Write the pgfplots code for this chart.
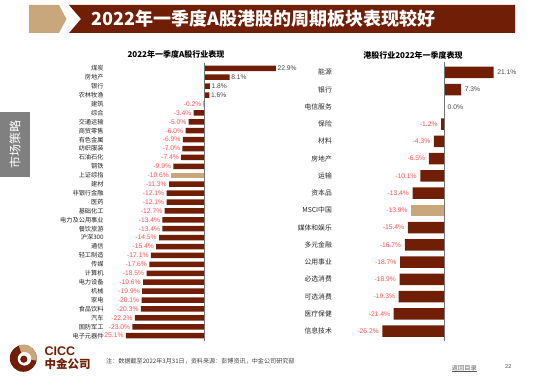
\documentclass[border=0pt]{standalone}
\usepackage{pgfplots}
\pgfplotsset{compat=1.18}
\usepackage{fontspec}
\setmainfont{Liberation Sans}
\newfontfamily\cjk{Noto Sans CJK SC}
\definecolor{barred}{RGB}{112,30,5}
\definecolor{tanc}{RGB}{201,167,124}
\definecolor{labred}{RGB}{255,80,80}
\definecolor{labgray}{RGB}{70,70,70}
\definecolor{tabgray}{RGB}{128,128,128}
\pgfplotsset{
  base/.style={scale only axis, anchor=south west, y dir=reverse, clip=false,
    xbar, bar shift=0pt, axis line style={draw=none}, major tick length=0pt,
    xtick=\empty, nodes near coords align={horizontal},
    /pgf/number format/assume math mode=true},
  lab/.style={point meta=x, nodes near coords={\pgfmathprintnumber[fixed,fixed zerofill,precision=1]{\pgfplotspointmeta}\%},
    every node near coord/.append style={font=\fontsize{6.7}{7}\selectfont, text=#1}},
}
\begin{document}
\begin{tikzpicture}
\useasboundingbox (0pt,0pt) rectangle (550pt,384pt);
\begin{scope}[x=1pt,y=1pt]
% banner
\fill[tanc] (29,379) -- (59,379) -- (66.5,365) -- (59,351) -- (29,351) -- cycle;
\fill[barred] (69,379) -- (515,379) -- (515,351) -- (69,351) -- (81,365) -- cycle;
\node[text=white, font=\cjk\bfseries\fontsize{18}{18}\selectfont, anchor=west] at (88,365) {2022年一季度A股港股的周期板块表现较好};
% side tab
\fill[tabgray] (0,207) rectangle (30,272);
\node[text=white, rotate=90, font=\cjk\fontsize{12}{12}\selectfont] at (15,239.5) {市场策略};
% chart titles
\node[font=\cjk\bfseries\fontsize{8}{8}\selectfont] at (176,329.7) {2022年一季度A股行业表现};
\node[font=\cjk\bfseries\fontsize{8}{8}\selectfont] at (413,329) {港股行业2022年一季度表现};
% footer
\fill[barred] (23.3,25.7) circle (13.5);
\fill[tanc] (23.3,25.7) -- ++(-10:13.5) arc (-10:110:13.5) -- cycle;
\fill[white] (24.5,25.2) circle (6.8);
\fill[barred] (23.8,24.8) circle (3.6);
\node[anchor=west, text=barred, font=\bfseries\fontsize{12.5}{12.5}\selectfont, inner sep=0] at (44.5,32.5) {CICC};
\node[anchor=west, text=barred, font=\cjk\bfseries\fontsize{11.5}{11.5}\selectfont, inner sep=0] at (44.5,19.5) {中金公司};
\node[anchor=west, text=black!75, font=\cjk\fontsize{6.1}{6.1}\selectfont, inner sep=0] at (106,23) {注：数据截至2022年3月31日，资料来源：彭博资讯，中金公司研究部};
\node[anchor=west, text=black!65, font=\cjk\fontsize{6.2}{6.2}\selectfont, inner sep=0] (ret) at (451.7,16.3) {返回目录};
\draw[black!65, line width=0.3pt] (ret.south west) -- (ret.south east);
\node[anchor=west, text=black!70, font=\fontsize{5.5}{5.5}\selectfont, inner sep=0] at (505,17) {22};
\end{scope}

% left chart
\begin{axis}[base, at={(106pt,41.2pt)}, width=184pt, height=281.6pt,
  xmin=-31.46, xmax=27.42, ymin=-0.8, ymax=30.8, bar width=5.5pt,
  ytick={0,...,30},
  yticklabels={煤炭,房地产,银行,农林牧渔,建筑,综合,交通运输,商贸零售,有色金属,纺织服装,石油石化,钢铁,上证综指,建材,非银行金融,医药,基础化工,电力及公用事业,餐饮旅游,沪深300,通信,轻工制造,传媒,计算机,电力设备,机械,家电,食品饮料,汽车,国防军工,电子元器件},
  yticklabel style={font=\cjk\fontsize{6.2}{6.2}\selectfont, text=black!85, inner sep=2.2pt}]
\addplot[fill=barred, draw=none, lab=labgray, every node near coord/.append style={inner sep=1.5pt}] coordinates {(22.9,0) (8.1,1) (1.8,2) (1.6,3)};
\addplot[fill=barred, draw=none, lab=labred, every node near coord/.append style={inner sep=2.2pt}] coordinates {(-0.2,4) (-3.4,5) (-5.0,6) (-6.0,7) (-6.9,8) (-7.0,9) (-7.4,10) (-9.9,11) (-11.3,13) (-12.1,14) (-12.1,15) (-12.7,16) (-13.4,17) (-13.4,18) (-14.5,19) (-15.4,20) (-17.1,21) (-17.6,22) (-18.5,23) (-19.6,24) (-19.9,25) (-20.1,26) (-20.3,27) (-22.2,28) (-23.0,29) (-25.1,30)};
\addplot[fill=tanc, draw=none, lab=labred, every node near coord/.append style={inner sep=2.2pt}] coordinates {(-10.6,12)};
\draw[black!55, line width=0.6pt] (axis cs:0,-0.6) -- (axis cs:0,30.55);
\end{axis}

% right chart
\begin{axis}[base, at={(334pt,43.5pt)}, width=166pt, height=278.6pt,
  xmin=-46.8, xmax=23.8, ymin=-0.6, ymax=15.55, bar width=11.5pt,
  ytick={0,...,15},
  yticklabels={能源,银行,电信服务,保险,材料,房地产,运输,资本品,MSCI中国,媒体和娱乐,多元金融,公用事业,必选消费,可选消费,医疗保健,信息技术},
  yticklabel style={font=\cjk\fontsize{6.8}{6.8}\selectfont, text=black!85, inner sep=2pt}]
\addplot[fill=barred, draw=none, lab=labgray, every node near coord/.append style={inner sep=3.5pt}] coordinates {(21.1,0) (7.3,1) (0.0,2)};
\addplot[fill=barred, draw=none, lab=labred, every node near coord/.append style={inner sep=3.5pt}] coordinates {(-1.2,3) (-4.3,4) (-6.5,5) (-10.1,6) (-13.4,7) (-15.4,9) (-16.7,10) (-18.7,11) (-18.9,12) (-19.3,13) (-21.4,14) (-26.2,15)};
\addplot[fill=tanc, draw=none, lab=labred, every node near coord/.append style={inner sep=3.5pt}] coordinates {(-13.9,8)};
\draw[black!55, line width=0.6pt] (axis cs:0,-0.6) -- (axis cs:0,15.55);
\end{axis}
\end{tikzpicture}
\end{document}
